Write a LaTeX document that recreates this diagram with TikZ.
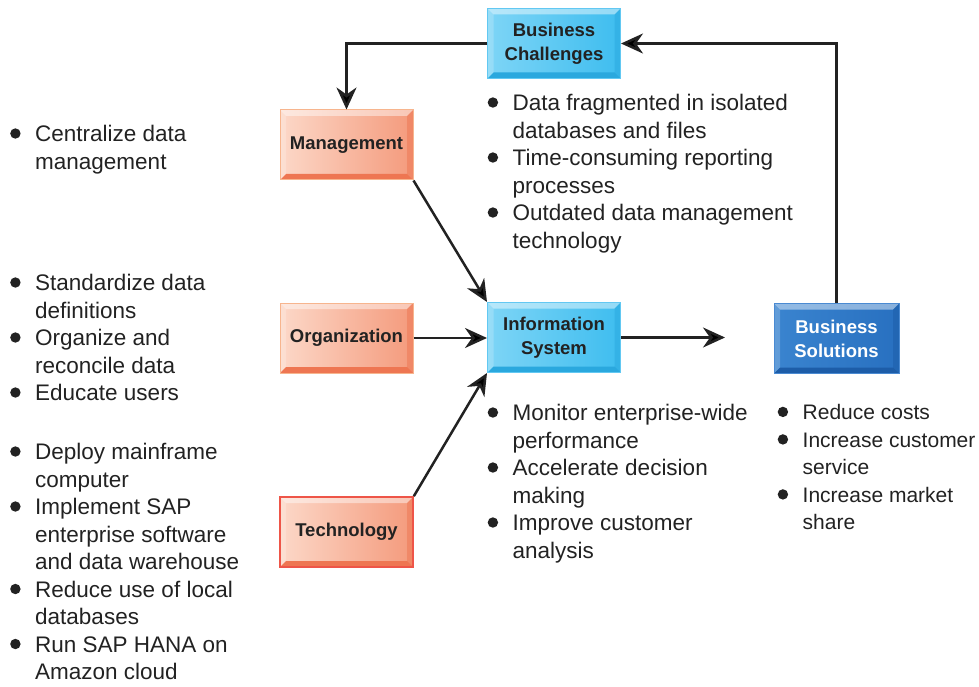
\documentclass[tikz,border=0pt]{standalone}
\usepackage{fontspec}
\setmainfont{Liberation Sans}
\usetikzlibrary{arrows.meta}

\definecolor{orL}{HTML}{FCD8C8}
\definecolor{orR}{HTML}{F49A7C}
\definecolor{orB}{HTML}{F7B58E}
\definecolor{orD}{HTML}{EE7652}
\definecolor{tcB}{HTML}{EE5548}
\definecolor{blL}{HTML}{7ED5F6}
\definecolor{blR}{HTML}{3EBDEF}
\definecolor{blB}{HTML}{62C8F2}
\definecolor{blD}{HTML}{2AA8DE}
\definecolor{dkL}{HTML}{3A84CF}
\definecolor{dkR}{HTML}{2870C0}
\definecolor{dkB}{HTML}{4A8AD2}
\definecolor{dkD}{HTML}{1D5DA8}
\definecolor{ink}{HTML}{222222}

\newcommand{\bt}{\makebox[25pt][l]{\tikz[baseline=-8pt]\fill[ink] (5.2pt,0) circle (5.2pt);}}
\newcommand{\ind}{\hspace*{25pt}}

\tikzset{
  box/.style={minimum width=133pt, minimum height=70pt, inner sep=0pt, align=center,
    font=\fontsize{18.5}{24}\selectfont\bfseries, text=ink, line width=1pt},
  bevel/.style={path picture={
    \path (path picture bounding box.north west) coordinate (pa)
          (path picture bounding box.north east) coordinate (pb)
          (path picture bounding box.south east) coordinate (pc)
          (path picture bounding box.south west) coordinate (pd);
    \fill[white,opacity=.45] (pa) -- (pb) -- ([shift={(-6pt,-6pt)}]pb) -- ([shift={(6pt,-6pt)}]pa) -- cycle;
    \fill[white,opacity=.2] (pa) -- ([shift={(6pt,-6pt)}]pa) -- ([shift={(6pt,6pt)}]pd) -- (pd) -- cycle;
    \fill[#1] (pd) -- (pc) -- ([shift={(-6pt,6pt)}]pc) -- ([shift={(6pt,6pt)}]pd) -- cycle;
    \fill[#1,opacity=.5] (pb) -- (pc) -- ([shift={(-6pt,6pt)}]pc) -- ([shift={(-6pt,-6pt)}]pb) -- cycle;
  }},
  orbox/.style={box, left color=orL, right color=orR, draw=orB, bevel=orD},
  tcbox/.style={orbox, draw=tcB, line width=1.6pt},
  blbox/.style={box, left color=blL, right color=blR, draw=blB, bevel=blD},
  dkbox/.style={box, left color=dkL, right color=dkR, draw=dkB, bevel=dkD, text=white},
  items/.style={anchor=north west, inner sep=0pt, align=left, text=ink,
    font=\fontsize{22.5}{27.5}\selectfont},
  arr/.style={draw=ink, line width=2.5pt, -{Stealth[length=22pt,width=20pt,inset=7pt]}}
}

\begin{document}
\begin{tikzpicture}[x=1pt,y=-1pt]
  \useasboundingbox (0,0) rectangle (979,687);
  % Boxes.
  \node[blbox] (bc) at (554,43.5) {Business\\Challenges};
  \node[orbox] (mg) at (346.5,145) {Management};
  \node[orbox] (og) at (346.5,338) {Organization};
  \node[blbox] (is) at (554,337.5) {Information\\System};
  \node[dkbox, minimum width=125pt] (bs) at (836.5,338.5) {Business\\Solutions};
  \node[tcbox] (tc) at (346.5,532) {Technology};
  \coordinate (isend) at (725,337.5);
  % Bullet lists.
  \node[items] (lmg) at (10,125) {\bt Centralize data\\ \ind management};
  \node[items] (log) at (10,274) {\bt Standardize data\\ \ind definitions\\
    \bt Organize and\\ \ind reconcile data\\ \bt Educate users};
  \node[items] (ltc) at (10,443) {\bt Deploy mainframe\\ \ind computer\\
    \bt Implement SAP\\ \ind enterprise software\\ \ind and data warehouse\\
    \bt Reduce use of local\\ \ind databases\\ \bt Run SAP HANA on\\ \ind Amazon cloud};
  \node[items] (lbc) at (487.5,94) {\bt Data fragmented in isolated\\ \ind databases and files\\
    \bt Time-consuming reporting\\ \ind processes\\
    \bt Outdated data management\\ \ind technology};
  \node[items] (lis) at (487.5,404) {\bt Monitor enterprise-wide\\ \ind performance\\
    \bt Accelerate decision\\ \ind making\\ \bt Improve customer\\ \ind analysis};
  \node[items, font=\fontsize{21}{27.5}\selectfont] (lbs) at (777.5,404.5) {\bt Reduce costs\\
    \bt Increase customer\\ \ind service\\ \bt Increase market\\ \ind share};
  % Connectors.
  \draw[arr] (bc.west) -| (mg.north);
  \draw[arr] (bs.north) |- (bc.east);
  \draw[arr] (mg.south east) -- (is.north west);
  \draw[arr] (og.east) -- (og.east -| is.west);
  \draw[arr] (tc.north east) -- (is.south west);
  \draw[arr] (is.east) -- (isend);
\end{tikzpicture}
\end{document}
